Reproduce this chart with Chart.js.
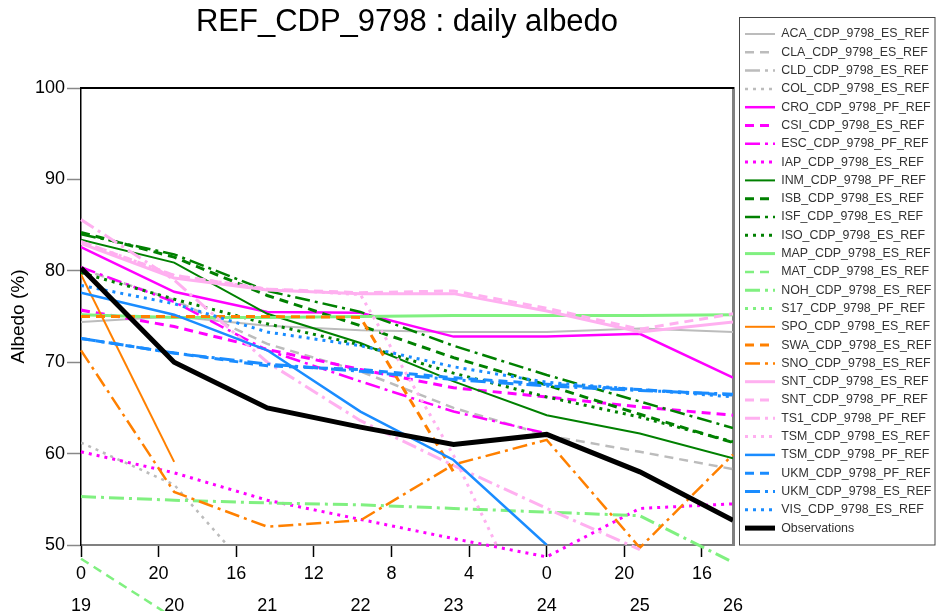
<!DOCTYPE html>
<html><head><meta charset="utf-8">
<script src="https://cdn.jsdelivr.net/npm/chart.js@4.4.1/dist/chart.umd.min.js"></script>
<style>html,body{margin:0;padding:0;background:#fff;}canvas{display:block;}</style>
</head><body>
<canvas id="c" width="937" height="611"></canvas>
<script>
// ---------- data ----------
const dayHours = [0, 24, 48, 72, 96, 120, 144, 168];
const dayLabels = ['19', '20', '21', '22', '23', '24', '25', '26'];
const hourTicks = [0, 20, 40, 60, 80, 100, 120, 140, 160];
const hourTickLabels = ['0', '20', '16', '12', '8', '4', '0', '20', '16'];

const ACA = [74.4, 75.0, 74.0, 73.5, 73.3, 73.3, 73.7, 73.3];
const CLA = [80.2, 76.8, 72.0, 69.0, 65.0, 62.0, 60.2, 58.3];
const CLD = [null, null, null, null, null, null, null, null];
const COL = [61.2, 56.6, 45.0, null, null, null, null, null];
const CRO = [82.6, 77.7, 75.5, 75.4, 72.8, 72.8, 73.1, 68.3];
const CSI = [75.7, 73.9, 71.4, 69.2, 67.2, 66.2, 65.1, 64.2];
const ESC = [80.4, 76.6, 71.3, 67.9, 64.6, 62.2, null, null];
const IAP = [60.2, 57.9, 54.9, 52.8, 50.7, 48.7, 54.0, 54.5];
const INM = [83.4, 80.9, 75.3, 72.1, 67.9, 64.2, 62.2, 59.5];
const ISB = [84.2, 81.5, 77.3, 74.0, 70.5, 67.5, 64.3, 61.2];
const ISF = [84.0, 81.8, 77.8, 75.5, 71.8, 68.6, 65.7, 62.8];
const ISO = [79.8, 76.9, 74.2, 71.9, 68.8, 66.2, 64.0, 61.3];
const MAP = [75.2, 74.9, 74.9, 75.0, 75.1, 75.1, 75.1, 75.2];
const MAT = [48.5, 42.0, null, null, null, null, null, null];
const NOH = [55.3, 54.9, 54.6, 54.4, 54.0, 53.6, 53.2, 48.1];
const S17 = [null, null, null, null, null, null, null, null];
const SPO = [79.6, 59.1, null, null, null, null, null, null];
const SWA = [75.0, 75.0, 75.0, 74.9, 58.0, null, null, null];
const SNO = [71.3, 55.8, 52.0, 52.7, 58.8, 61.5, 49.7, 59.9];
const SNT_ES = [83.0, 79.2, 77.9, 77.5, 77.5, 75.6, 73.3, 74.4];
const SNT_PF = [83.2, 79.5, 78.0, 77.6, 77.8, 75.9, 73.6, 75.3];
const TS1 = [85.6, 79.0, 70.0, 63.6, 58.7, 54.0, 49.5, null];
const TSM_ES = [83.2, 79.5, 78.0, 77.4, 59.8, 38.5, null, null];
const TSM_PF = [77.6, 75.2, 71.3, 64.6, 59.3, 50.0, null, null];
const UKM_PF = [72.6, 71.0, 69.6, 69.2, 68.3, 67.6, 67.0, 66.4];
const UKM_ES = [72.6, 71.0, 69.8, 69.0, 68.1, 67.4, 66.9, 66.5];
const VIS = [78.4, 76.4, 73.3, 71.8, 69.5, 67.8, 67.0, 66.2];
const OBS = [80.3, 70.0, 65.0, 62.9, 61.0, 62.1, 58.0, 52.7];

// ---------- styles ----------
const GRAY = '#bcbcbc', MAG = '#ff00ff', DGREEN = '#008000', LGREEN = '#80f080',
      ORANGE = '#ff8000', PINK = '#ffb0f0', BLUE = '#1a8cff', BLACK = '#000000';
const SOLID = [], DASH = [9, 6], DOT = [3, 5], DASHDOT = [15, 5, 3, 5];

// label, values, color, dash, width, unclipped
const series = [
  ['ACA_CDP_9798_ES_REF', ACA, GRAY, SOLID, 2],
  ['CLA_CDP_9798_ES_REF', CLA, GRAY, DASH, 2.5],
  ['CLD_CDP_9798_ES_REF', CLD, GRAY, DASHDOT, 2.5],
  ['COL_CDP_9798_ES_REF', COL, GRAY, DOT, 2.5],
  ['CRO_CDP_9798_PF_REF', CRO, MAG, SOLID, 2.5],
  ['CSI_CDP_9798_ES_REF', CSI, MAG, DASH, 3],
  ['ESC_CDP_9798_PF_REF', ESC, MAG, DASHDOT, 2.5],
  ['IAP_CDP_9798_ES_REF', IAP, MAG, DOT, 3, true],
  ['INM_CDP_9798_PF_REF', INM, DGREEN, SOLID, 2],
  ['ISB_CDP_9798_ES_REF', ISB, DGREEN, DASH, 3],
  ['ISF_CDP_9798_ES_REF', ISF, DGREEN, DASHDOT, 2.5],
  ['ISO_CDP_9798_ES_REF', ISO, DGREEN, DOT, 3],
  ['MAP_CDP_9798_ES_REF', MAP, LGREEN, SOLID, 3],
  ['MAT_CDP_9798_ES_REF', MAT, LGREEN, DASH, 2.5, true],
  ['NOH_CDP_9798_ES_REF', NOH, LGREEN, DASHDOT, 3, true],
  ['S17_CDP_9798_PF_REF', S17, LGREEN, DOT, 3],
  ['SPO_CDP_9798_ES_REF', SPO, ORANGE, SOLID, 2],
  ['SWA_CDP_9798_ES_REF', SWA, ORANGE, DASH, 3],
  ['SNO_CDP_9798_ES_REF', SNO, ORANGE, DASHDOT, 2.5, true],
  ['SNT_CDP_9798_ES_REF', SNT_ES, PINK, SOLID, 3],
  ['SNT_CDP_9798_PF_REF', SNT_PF, PINK, DASH, 3],
  ['TS1_CDP_9798_PF_REF', TS1, PINK, DASHDOT, 3, true],
  ['TSM_CDP_9798_ES_REF', TSM_ES, PINK, DOT, 3],
  ['TSM_CDP_9798_PF_REF', TSM_PF, BLUE, SOLID, 2.5],
  ['UKM_CDP_9798_PF_REF', UKM_PF, BLUE, DASH, 3],
  ['UKM_CDP_9798_ES_REF', UKM_ES, BLUE, DASHDOT, 3],
  ['VIS_CDP_9798_ES_REF', VIS, BLUE, DOT, 3],
  ['Observations', OBS, BLACK, SOLID, 5]
];

const datasets = series.map(([label, vals, color, dash, width, unclipped], i) => {
  const ds = {
    label,
    data: vals.map((v, k) => ({ x: dayHours[k], y: v })),
    borderColor: color,
    backgroundColor: color,
    borderDash: dash,
    borderWidth: width,
    pointRadius: 0,
    pointHoverRadius: 0,
    fill: false,
    tension: 0,
    spanGaps: false,
    order: series.length - i,
    xAxisID: 'x',
    yAxisID: 'y'
  };
  if (unclipped) ds.clip = false;
  return ds;
});

const FONT = 'Liberation Sans, Arial, Helvetica, sans-serif';
Chart.defaults.font.family = FONT;
Chart.defaults.color = '#000';

const framePlugin = {
  id: 'frame',
  beforeDraw(chart) {
    const c = chart.ctx;
    c.save();
    c.fillStyle = '#ffffff';
    c.fillRect(0, 0, chart.width, chart.height);
    c.restore();
  },
  beforeDatasetsDraw(chart) {
    const { ctx: c, chartArea: a } = chart;
    c.save();
    c.strokeStyle = '#000';
    c.lineWidth = 2;
    c.beginPath();
    c.moveTo(a.left, a.top);
    c.lineTo(a.right + 1, a.top);
    c.stroke();
    c.restore();
  },
  afterDraw(chart) {
    const { ctx: c, chartArea: a, legend: lg } = chart;
    c.save();
    c.strokeStyle = '#444';
    c.lineWidth = 1;
    const l = Math.round(lg.left) + 0.5;
    c.strokeRect(l, 17.5, 935 - l, a.bottom - 17.5);
    c.restore();
  }
};

new Chart(document.getElementById('c'), {
  type: 'line',
  data: { datasets },
  plugins: [framePlugin],
  options: {
    responsive: false,
    animation: false,
    devicePixelRatio: 1,
    layout: { padding: 0 },
    plugins: {
      tooltip: { enabled: false },
      title: {
        display: true,
        text: 'REF_CDP_9798 : daily albedo',
        fullSize: false,
        color: '#000',
        font: { family: FONT, size: 31, weight: 'normal' },
        padding: { top: 4, bottom: 46.8 }
      },
      legend: {
        position: 'right',
        align: 'start',
        fullSize: true,
        maxWidth: 197.9,
        title: { display: true, text: ' ', font: { size: 10 }, padding: 4.95 },
        labels: {
          usePointStyle: true,
          pointStyle: 'line',
          pointStyleWidth: 30,
          color: '#333',
          font: { family: FONT, size: 12.4 },
          padding: 5.9,
          generateLabels: (chart) => chart.data.datasets.map((ds, i) => ({
            text: ds.label,
            fillStyle: ds.borderColor,
            strokeStyle: ds.borderColor,
            lineWidth: ds.borderWidth,
            lineDash: ds.borderDash,
            lineCap: 'butt',
            pointStyle: 'line',
            hidden: false,
            fontColor: '#333',
            datasetIndex: i
          }))
        }
      }
    },
    scales: {
      x: {
        type: 'linear',
        position: 'bottom',
        min: 0,
        max: 168,
        weight: 0,
        afterBuildTicks: (s) => { s.ticks = hourTicks.map(v => ({ value: v })); },
        afterFit: (s) => { s.height = 40; },
        ticks: {
          autoSkip: false, maxRotation: 0, padding: 6.2,
          font: { size: 18 }, color: '#000',
          callback: (v, i) => hourTickLabels[i]
        },
        grid: { display: true, drawOnChartArea: false, drawTicks: true, tickLength: 12, tickColor: '#000', tickWidth: 1.5 },
        border: { display: true, color: '#808080', width: 2 }
      },
      x2: {
        type: 'linear',
        position: 'bottom',
        min: 0,
        max: 168,
        weight: 1,
        display: true,
        afterBuildTicks: (s) => { s.ticks = dayHours.map(v => ({ value: v })); },
        afterFit: (s) => { s.height = 26; },
        ticks: {
          autoSkip: false, maxRotation: 0, padding: 2.2,
          font: { size: 18 }, color: '#000',
          callback: (v, i) => dayLabels[i]
        },
        grid: { display: false },
        border: { display: false }
      },
      y: {
        type: 'linear',
        position: 'left',
        min: 50,
        max: 100,
        afterFit: (s) => { s.width = 81; },
        ticks: { stepSize: 10, padding: 2, font: { size: 18 }, color: '#000' },
        grid: { display: true, drawOnChartArea: false, drawTicks: true, tickLength: 14, tickColor: '#888', tickWidth: 1.5 },
        border: { display: true, color: '#000', width: 1.5 },
        title: { display: true, text: 'Albedo (%)', color: '#000', font: { size: 19 }, padding: { top: 7.7, bottom: 0 } }
      },
      yr: {
        type: 'linear',
        position: 'right',
        display: true,
        weight: 0,
        afterFit: (s) => { s.width = 6.1; },
        ticks: { display: false },
        grid: { display: false },
        border: { display: true, color: '#808080', width: 3 }
      }
    }
  }
});
</script>
</body></html>
